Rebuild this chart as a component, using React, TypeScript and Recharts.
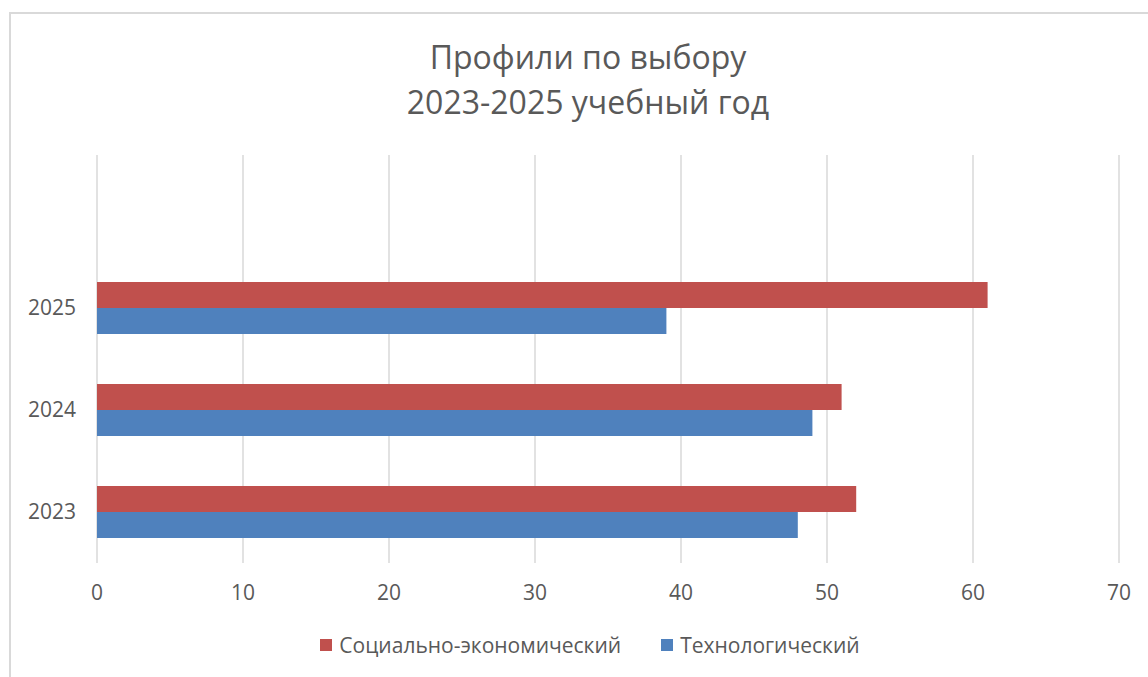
import { BarChart, Bar, XAxis, YAxis, CartesianGrid, Legend } from 'recharts';

const years = ['2023', '2024', '2025'];
const socEcon = [52, 51, 61];
const tech = [48, 49, 39];
const xTicks = [0, 10, 20, 30, 40, 50, 60, 70];

const SOC_NAME = 'Социально-экономический';
const TECH_NAME = 'Технологический';
const RED = '#C0504D';
const BLUE = '#4F81BD';
const TEXT = '#595959';
const FONT = '"Open Sans", "Noto Sans", sans-serif';

// top row in the picture is the latest year
const data = years
  .map((year, i) => ({ year, soc: socEcon[i], tech: tech[i] }))
  .reverse();

const legendItems = [
  { name: SOC_NAME, color: RED },
  { name: TECH_NAME, color: BLUE },
];

function LegendRow() {
  return (
    <div style={{ display: 'flex', justifyContent: 'center', gap: 40, fontFamily: FONT, fontSize: 21, color: TEXT }}>
      {legendItems.map((item) => (
        <div key={item.name} style={{ display: 'flex', alignItems: 'center' }}>
          <span style={{ width: 12, height: 12, background: item.color, marginRight: 7, display: 'inline-block' }} />
          <span>{item.name}</span>
        </div>
      ))}
    </div>
  );
}

export default function App() {
  return (
    <div style={{ position: 'absolute', left: 0, top: 0, width: 1148, height: 677, background: '#fff', overflow: 'hidden' }}>
      <div
        style={{
          position: 'absolute',
          left: 9,
          top: 12,
          width: 1139,
          height: 665,
          borderTop: '2px solid #D9D9D9',
          borderLeft: '2px solid #D9D9D9',
          boxSizing: 'border-box',
        }}
      />
      <div
        style={{
          position: 'absolute',
          left: 0,
          top: 34,
          width: 1176,
          textAlign: 'center',
          fontFamily: FONT,
          fontSize: 32,
          lineHeight: '45px',
          color: TEXT,
        }}
      >
        <div>Профили по выбору</div>
        <div>2023-2025 учебный год</div>
      </div>
      <BarChart
        width={1148}
        height={677}
        data={data}
        layout="vertical"
        barGap={0}
        barSize={26}
        margin={{ top: 155, right: 29, left: 0, bottom: 0 }}
        style={{ position: 'absolute', left: 0, top: 0 }}
      >
        <CartesianGrid horizontal={false} stroke="#D9D9D9" strokeWidth={1.5} />
        <XAxis
          type="number"
          domain={[0, 70]}
          ticks={xTicks}
          height={114}
          axisLine={false}
          tickLine={false}
          tickSize={0}
          tickMargin={22}
          tick={{ fill: TEXT, fontSize: 21, fontFamily: FONT }}
        />
        <YAxis
          type="category"
          dataKey="year"
          width={97}
          padding={{ top: 102, bottom: 0 }}
          axisLine={false}
          tickLine={false}
          tickSize={0}
          tickMargin={21}
          tick={{ fill: TEXT, fontSize: 21, fontFamily: FONT }}
        />
        <Legend
          layout="horizontal"
          verticalAlign="middle"
          align="center"
          content={() => <LegendRow />}
          wrapperStyle={{ top: 631, left: 16, width: 1148 }}
        />
        <Bar dataKey="soc" name={SOC_NAME} fill={RED} isAnimationActive={false} />
        <Bar dataKey="tech" name={TECH_NAME} fill={BLUE} isAnimationActive={false} />
      </BarChart>
    </div>
  );
}
